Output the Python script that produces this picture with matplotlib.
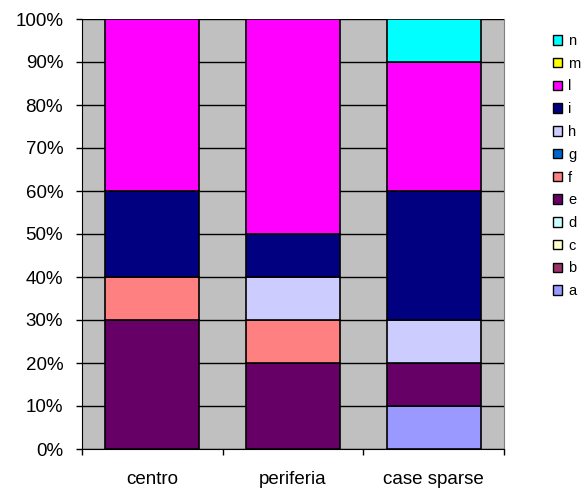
import matplotlib
matplotlib.use("Agg")
import matplotlib.pyplot as plt
import numpy as np
from matplotlib.patches import Patch

plt.rcParams['font.family'] = ['Liberation Sans', 'DejaVu Sans']

categories = ["centro", "periferia", "case sparse"]
series = ["a", "b", "c", "d", "e", "f", "g", "h", "i", "l", "m", "n"]
values = {
    "a": [0, 0, 10],
    "b": [0, 0, 0],
    "c": [0, 0, 0],
    "d": [0, 0, 0],
    "e": [30, 20, 10],
    "f": [10, 10, 0],
    "g": [0, 0, 0],
    "h": [0, 10, 10],
    "i": [20, 10, 30],
    "l": [40, 50, 30],
    "m": [0, 0, 0],
    "n": [0, 0, 10],
}
colors = {
    "a": "#9999FF", "b": "#993366", "c": "#FFFFCC", "d": "#CCFFFF",
    "e": "#660066", "f": "#FF8080", "g": "#0066CC", "h": "#CCCCFF",
    "i": "#000080", "l": "#FF00FF", "m": "#FFFF00", "n": "#00FFFF",
}

fig = plt.figure(figsize=(5.87, 4.93), dpi=100)
ax = fig.add_axes([82/587, 44/493, 422/587, 430/493])
ax.set_facecolor("#C0C0C0")

x = np.arange(len(categories))
bottom = np.zeros(len(categories))
for s in series:
    v = np.array(values[s], dtype=float)
    mask = v > 0
    if mask.any():
        ax.bar(x[mask], v[mask], bottom=bottom[mask], width=0.67,
               color=colors[s], edgecolor="black", linewidth=1.2, zorder=3)
    bottom += v

ax.set_xlim(-0.5, len(categories) - 0.5)
ax.set_ylim(0, 100)
ax.set_yticks(np.arange(0, 101, 10))
ax.set_yticklabels([f"{t}%" for t in range(0, 101, 10)], fontsize=13.5)
ax.yaxis.grid(True, color="black", linewidth=1.0, zorder=1)
ax.set_axisbelow(True)
ax.set_xticks(x)
ax.set_xticklabels(categories, fontsize=13.5)
ax.tick_params(axis="x", length=0, pad=16)
ax.set_xticks(np.arange(-0.5, len(categories), 1), minor=True)
ax.tick_params(axis="x", which="minor", length=4.5, direction="out", width=1)
ax.tick_params(axis="y", length=4.5, direction="out", width=1, pad=9)
ax.spines["top"].set_visible(False)
ax.spines["right"].set_color("#808080")
ax.spines["left"].set_color("black")
ax.spines["bottom"].set_color("black")

handles = [Patch(facecolor=colors[s], edgecolor="black", linewidth=1.0, label=s)
           for s in reversed(series)]
fig.legend(handles=handles, loc="upper left", bbox_to_anchor=(553/587, 1 - 34/493),
           frameon=False, fontsize=10.5, handlelength=0.65, handleheight=0.65,
           labelspacing=0.6, handletextpad=0.4, borderpad=0, borderaxespad=0)

fig.savefig("out.png", dpi=100)
